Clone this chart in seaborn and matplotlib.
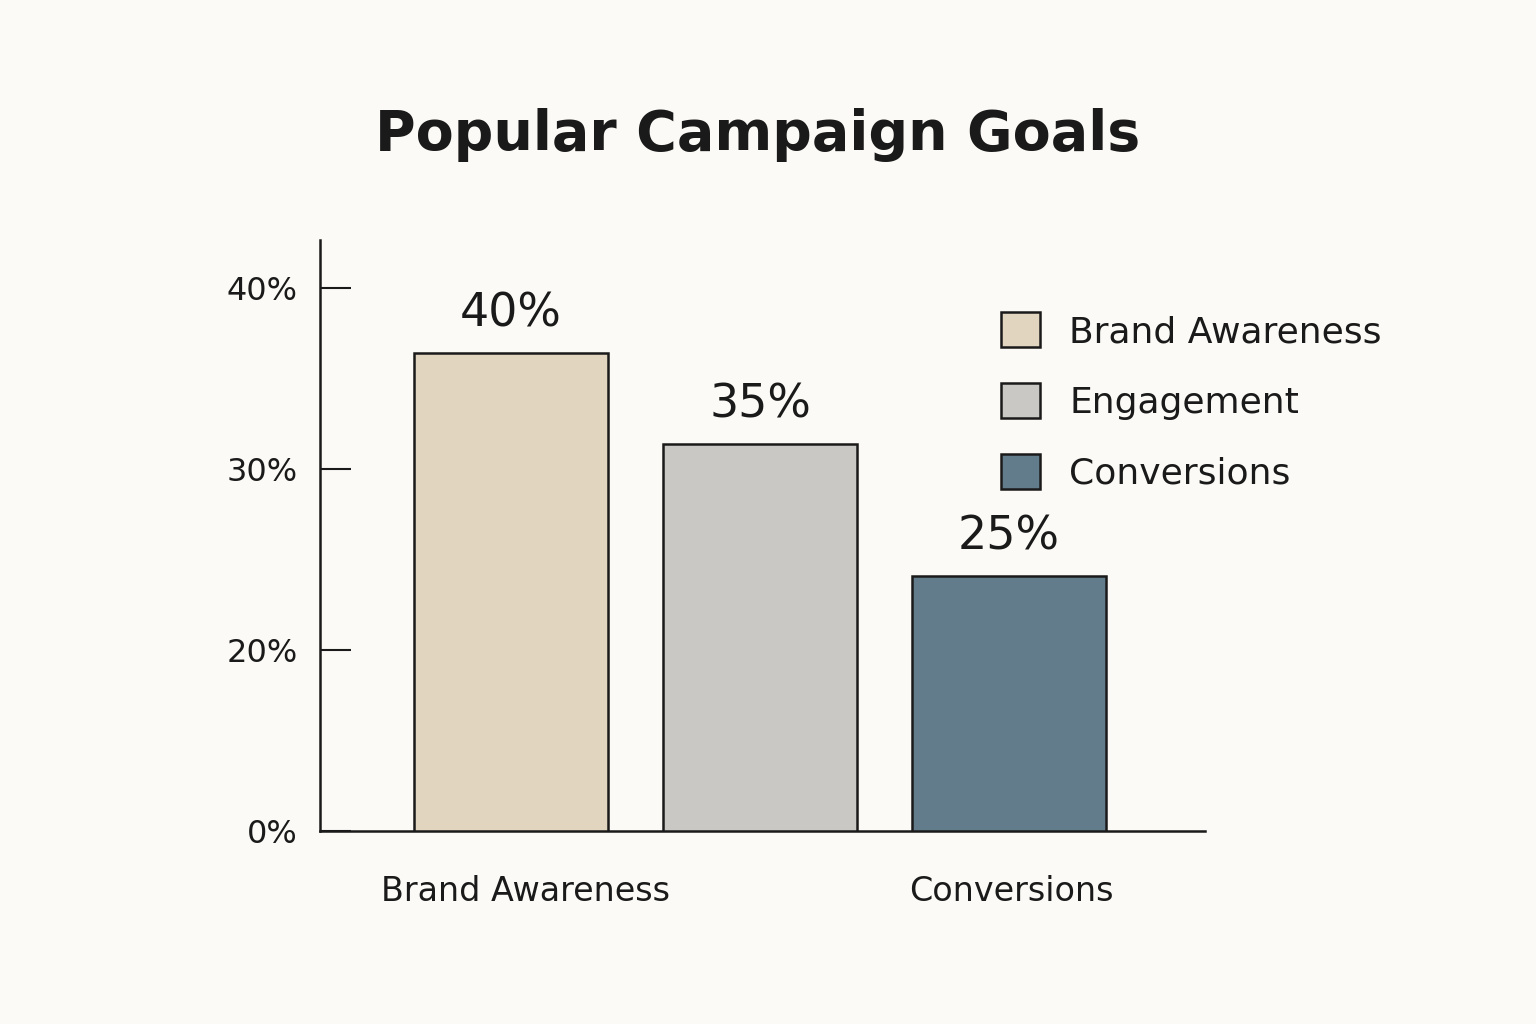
import matplotlib
matplotlib.use("Agg")
import matplotlib.pyplot as plt
import seaborn as sns
import pandas as pd
from matplotlib.patches import Patch

categories = ["Brand Awareness", "Engagement", "Conversions"]
bar_heights = [36.4, 31.4, 24.1]   # drawn heights on the axis scale
bar_labels = ["40%", "35%", "25%"]
colors = ["#e2d5bf", "#c9c8c4", "#637c8c"]
tick_values = [10, 20, 30, 40]
tick_labels = ["0%", "20%", "30%", "40%"]

bg = "#fbfaf6"
plt.rcParams["font.family"] = "DejaVu Sans"
fig = plt.figure(figsize=(15.36, 10.24), dpi=100, facecolor=bg)
ax = fig.add_axes([320/1536, 1-831/1024, 885/1536, (831-240)/1024])
ax.set_facecolor(bg)

df = pd.DataFrame({"cat": categories, "val": bar_heights})
sns.barplot(data=df, x="cat", y="val", hue="cat", palette=colors, width=0.78,
            edgecolor="#1a1a1a", linewidth=1.8, legend=False, ax=ax, saturation=1)

ax.set_ylim(10, 42.65)
ax.set_xlim(-0.767, 2.787)
ax.set_yticks(tick_values)
ax.set_yticklabels(tick_labels, fontsize=23, color="#1a1a1a")
ax.tick_params(axis="y", direction="in", length=22, width=1.5, pad=16, color="#1a1a1a")
ax.set_xticks([0.06, 2.01])
ax.set_xticklabels(["Brand Awareness", "Conversions"], fontsize=24, color="#1a1a1a")
ax.tick_params(axis="x", length=0, pad=32)
ax.set_xlabel(""); ax.set_ylabel("")
for s in ["top", "right"]:
    ax.spines[s].set_visible(False)
for s in ["left", "bottom"]:
    ax.spines[s].set_linewidth(1.8)
    ax.spines[s].set_color("#1a1a1a")

for i, (h, lab) in enumerate(zip(bar_heights, bar_labels)):
    ax.text(i, h + 0.9, lab, ha="center", va="bottom", fontsize=33, color="#1a1a1a")

handles = [Patch(facecolor=c, edgecolor="#1a1a1a", linewidth=1.8) for c in colors]
fig.legend(handles, categories, loc="upper left", bbox_to_anchor=(968/1536, 1-280/1024),
           frameon=False, fontsize=26, handlelength=1.1, handleheight=1.1,
           labelspacing=0.95, handletextpad=0.8, labelcolor="#1a1a1a")

fig.text(0.493, 1-135/1024, "Popular Campaign Goals", ha="center", va="center",
         fontsize=40, fontweight="bold", color="#1a1a1a")

fig.savefig("out.png", dpi=100, facecolor=bg)
